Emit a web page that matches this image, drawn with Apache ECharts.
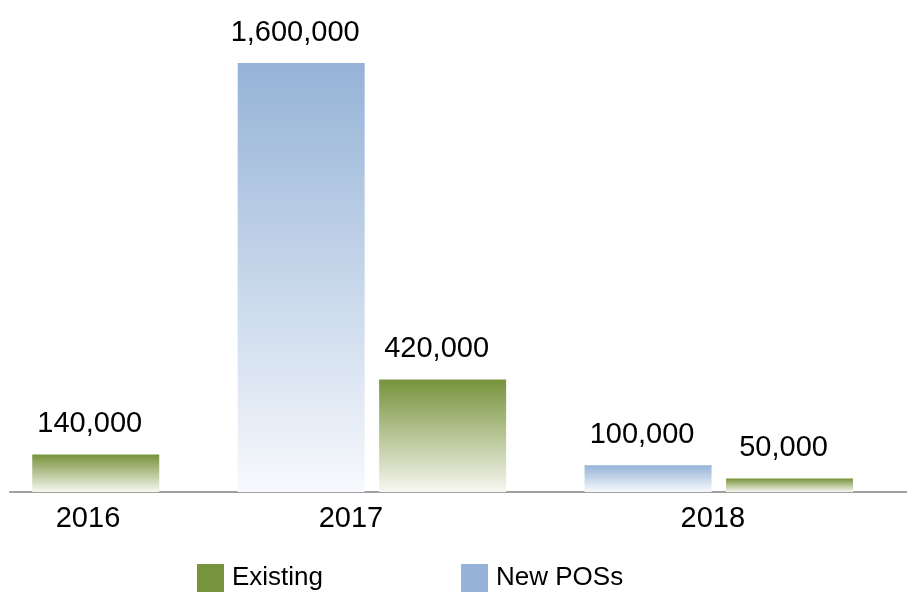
<!DOCTYPE html>
<html>
<head>
<meta charset="utf-8">
<script src="https://cdn.jsdelivr.net/npm/echarts@6/dist/echarts.min.js"></script>
<style>
  html, body { margin: 0; padding: 0; background: #fff; }
  #main { width: 907px; height: 592px; }
</style>
</head>
<body>
<div id="main"></div>
<script>
// data
var years = ['2016', '2017', '2018']
var newPOSs = [null, 1600000, 100000]
var existing = [140000, 420000, 50000]

var font = "'Liberation Sans', Arial, sans-serif"
var chart = echarts.init(document.getElementById('main'))

// year labels are not centred on the ticks in the original, nudge them
var shift = {
  a: { padding: [0, 0, 0, 126] },
  b: { padding: [0, 42, 0, 0] },
  c: { padding: [0, 12, 0, 0] }
}
var rich = {}
Object.keys(shift).forEach(function (k) {
  rich[k] = Object.assign({ fontSize: 29, fontFamily: font, color: '#000' }, shift[k])
})

var barLabel = {
  show: true,
  position: 'top',
  distance: 16,
  offset: [-6, 0],
  fontSize: 29,
  fontFamily: font,
  color: '#000',
  formatter: function (p) {
    return p.value[1].toLocaleString('en-US')
  }
}

var option = {
  animation: false,
  grid: { left: 10, right: 0, top: 63, bottom: 100 },
  legend: {
    left: 197,
    top: 564,
    padding: 0,
    icon: 'rect',
    itemWidth: 27,
    itemHeight: 28,
    itemGap: 138,
    textStyle: { fontSize: 26, fontFamily: font, color: '#000', padding: [0, 0, 0, 3] },
    data: [
      { name: 'Existing', itemStyle: { color: '#77933C' } },
      { name: 'New POSs', itemStyle: { color: '#95B3D7' } }
    ]
  },
  xAxis: {
    type: 'value',
    min: -0.04324,
    max: 2.54252,
    axisLine: { show: true, lineStyle: { color: '#A0A0A0', width: 2 } },
    axisTick: { show: false },
    splitLine: { show: false },
    axisLabel: {
      margin: 12,
      customValues: [0, 1, 2],
      formatter: function (v) {
        return '{' + ['a', 'b', 'c'][v] + '|' + years[v] + '}'
      },
      rich: rich
    }
  },
  yAxis: {
    type: 'value',
    show: false,
    min: 0,
    max: 1600000
  },
  series: [
    {
      name: 'New POSs',
      type: 'bar',
      barWidth: 127,
      barGap: '11.4%',
      label: barLabel,
      itemStyle: {
        color: new echarts.graphic.LinearGradient(0, 0, 0, 1, [
          { offset: 0, color: '#95B3D7' },
          { offset: 1, color: '#F7F9FD' }
        ])
      },
      data: years.map(function (y, i) { return [i, newPOSs[i]] })
    },
    {
      name: 'Existing',
      type: 'bar',
      barWidth: 127,
      barGap: '11.4%',
      label: barLabel,
      itemStyle: {
        color: new echarts.graphic.LinearGradient(0, 0, 0, 1, [
          { offset: 0, color: '#77933C' },
          { offset: 1, color: '#F7F7F0' }
        ])
      },
      data: years.map(function (y, i) { return [i, existing[i]] })
    }
  ]
}
chart.setOption(option)
</script>
</body>
</html>
